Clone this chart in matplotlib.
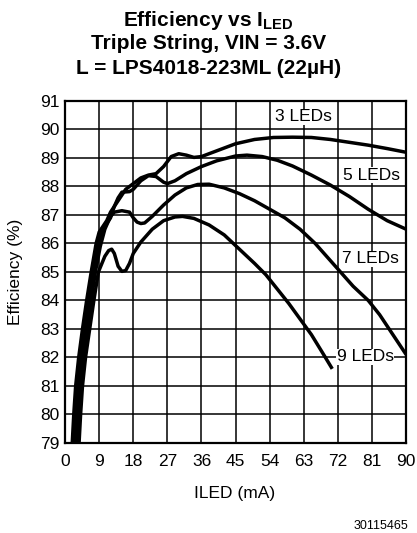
import matplotlib
matplotlib.use("Agg")
import matplotlib.pyplot as plt

plt.rcParams['font.family'] = ['Liberation Sans', 'DejaVu Sans']
plt.rcParams['mathtext.fontset'] = 'custom'
plt.rcParams['mathtext.rm'] = 'Liberation Sans'
plt.rcParams['mathtext.bf'] = 'Liberation Sans:bold'

# efficiency curves (ILED mA, efficiency %)
led3_x = [1.9, 2.3, 2.8, 3.6, 4.6, 5.7, 6.9, 8.2, 9, 10, 11, 12, 14, 16, 18, 20, 22, 24, 26, 28,
          30, 32, 34, 36, 40, 45, 50, 55, 60, 65, 70, 75, 80, 85, 90]
led3_y = [79.0, 80.0, 81.0, 82.0, 83.0, 84.0, 85.0, 86.0, 86.4, 86.6, 86.8, 87.1, 87.5, 87.9, 88.1,
          88.3, 88.4, 88.45, 88.7, 89.05, 89.15, 89.1, 89.02, 89.05, 89.25, 89.5, 89.65, 89.72,
          89.73, 89.72, 89.65, 89.55, 89.45, 89.33, 89.2]

led5_x = [2.5, 2.9, 3.4, 4.2, 5.2, 6.3, 7.5, 8.8, 10, 11, 12, 13, 14, 15, 17, 18, 20, 22, 24, 26,
          27, 29, 32, 36, 40, 45, 48, 52, 56, 60, 65, 70, 75, 80, 85, 90]
led5_y = [79.0, 80.0, 81.0, 82.0, 83.0, 84.0, 85.0, 86.0, 86.5, 86.7, 86.9, 87.3, 87.6, 87.8, 87.82,
          87.9, 88.2, 88.38, 88.35, 88.15, 88.1, 88.2, 88.45, 88.7, 88.9, 89.07, 89.1, 89.05,
          88.92, 88.72, 88.4, 88.05, 87.65, 87.2, 86.8, 86.5]

led7_x = [3.1, 3.5, 4.0, 4.8, 5.8, 6.9, 8.0, 9.3, 10.5, 12, 13, 15, 17, 18, 19, 20, 21, 23, 26,
          29, 32, 35, 38, 42, 46, 50, 54, 58, 62, 66, 70, 73, 76, 80, 83, 86, 90]
led7_y = [79.0, 80.0, 81.0, 82.0, 83.0, 84.0, 85.0, 85.9, 86.5, 86.95, 87.1, 87.15, 87.1, 86.9,
          86.75, 86.7, 86.72, 86.95, 87.35, 87.7, 87.95, 88.07, 88.08, 87.95, 87.75, 87.5, 87.2,
          86.9, 86.5, 86.0, 85.4, 84.95, 84.5, 84.0, 83.5, 82.9, 82.1]

led9_x = [3.7, 4.1, 4.6, 5.4, 6.5, 7.6, 8.8, 10.5, 11.5, 12.3, 13, 14, 15, 16, 17, 18, 20, 23, 26,
          29, 31, 34, 38, 42, 46, 50, 53, 56, 59, 62, 65, 68, 70.5]
led9_y = [79.0, 80.0, 81.0, 82.0, 83.0, 84.0, 85.0, 85.55, 85.75, 85.8, 85.65, 85.2, 85.02, 85.05,
          85.3, 85.65, 86.05, 86.5, 86.8, 86.93, 86.95, 86.88, 86.65, 86.3, 85.8, 85.3, 84.9,
          84.4, 83.9, 83.35, 82.8, 82.15, 81.6]

labels = ["3 LEDs", "5 LEDs", "7 LEDs", "9 LEDs"]
label_pos = [(62.9, 90.44), (80.9, 88.4), (80.6, 85.46), (79.2, 82.02)]

fig = plt.figure(figsize=(4.17, 5.33), dpi=100)
ax = fig.add_axes([0.156, 0.169, 0.818, 0.6415])

for xs, ys in [(led3_x, led3_y), (led5_x, led5_y), (led7_x, led7_y), (led9_x, led9_y)]:
    ax.plot(xs, ys, color="black", lw=2.5, solid_capstyle="butt", zorder=3)

for txt, (lx, ly) in zip(labels, label_pos):
    ax.text(lx, ly, txt, fontsize=12.5, ha="center", va="center", zorder=4,
            bbox=dict(facecolor="white", edgecolor="none", pad=0.5))

ax.set_xlim(0, 90)
ax.set_ylim(79, 91)
ax.set_xticks(range(0, 91, 9))
ax.set_yticks(range(79, 92))
ax.grid(True, color="black", lw=1.1)
ax.set_axisbelow(True)
for s in ax.spines.values():
    s.set_linewidth(1.6)
ax.tick_params(axis="both", length=0, labelsize=12.5)
ax.tick_params(axis="x", pad=8)
ax.tick_params(axis="y", pad=4)

fig.text(0.5635, 0.0657, "ILED (mA)", fontsize=12.5, ha="center", va="baseline")
fig.text(0.036, 0.49, "Efficiency (%)", fontsize=12.5, ha="center", va="center", rotation=90)

fig.text(0.5, 0.9518, r"Efficiency vs I$_{\mathbf{LED}}$", fontsize=15, fontweight="bold",
         ha="center", va="baseline")
fig.text(0.5, 0.9075, "Triple String, VIN = 3.6V", fontsize=15, fontweight="bold",
         ha="center", va="baseline")
fig.text(0.5, 0.8606, "L = LPS4018-223ML (22µH)", fontsize=15, fontweight="bold",
         ha="center", va="baseline")
fig.text(0.978, 0.0075, "30115465", fontsize=9, ha="right", va="baseline")

fig.savefig("out.png", dpi=100)
